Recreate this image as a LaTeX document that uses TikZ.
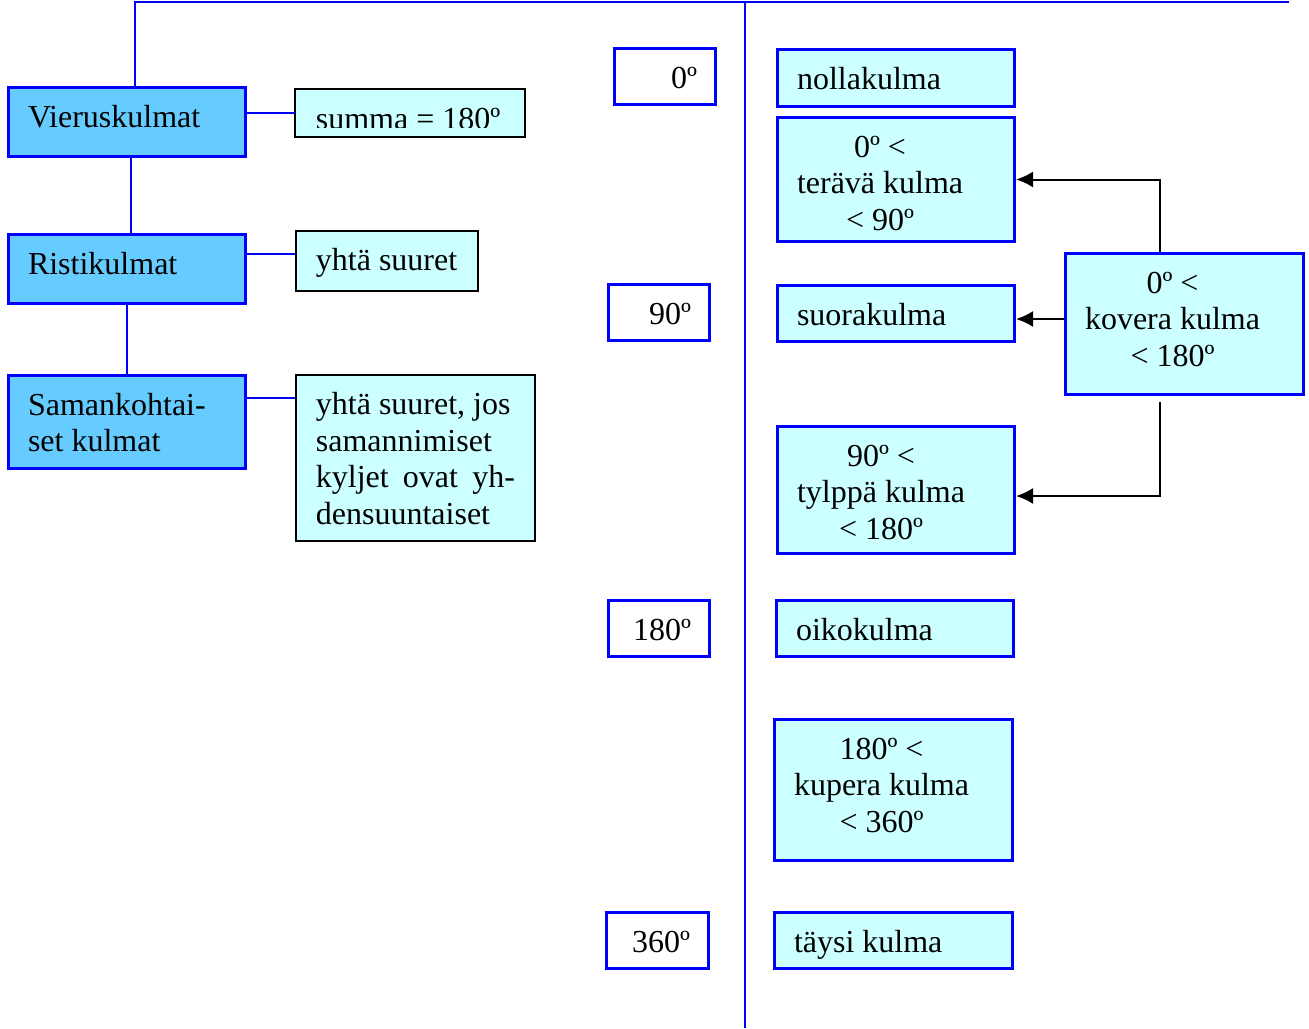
\documentclass[tikz,border=0pt]{standalone}
\usepackage{fontspec}
\setmainfont{Liberation Serif}
\usetikzlibrary{arrows.meta,backgrounds}
\definecolor{kblue}{RGB}{0,0,255}
\definecolor{kdark}{RGB}{102,204,255}
\definecolor{kpale}{RGB}{204,255,255}
\newcommand{\kstack}[1]{\begin{tabular}[t]{@{}c@{}}#1\end{tabular}}
\tikzstyle{lbox} = [draw=kblue, line width=3pt, fill=kdark, anchor=north west, inner xsep=19.5pt, inner ysep=0pt, text height=39.5pt, align=flush left, text width=198pt]
\tikzstyle{rbox} = [draw=kblue, line width=3pt, fill=kpale, anchor=north west, inner xsep=19.5pt, inner ysep=0pt, text height=39.5pt, align=flush left, text width=198pt]
\tikzstyle{nbox} = [draw=kblue, line width=3pt, fill=white, anchor=north west, inner xsep=18.5pt, inner ysep=0pt, text height=39.5pt, align=flush right, text width=64pt]
\tikzstyle{note} = [draw=black, line width=1.8pt, fill=kpale, anchor=north west, inner xsep=20pt, inner ysep=0pt, text height=40pt, align=flush left]
\tikzstyle{link} = [draw=kblue, line width=2.4pt]
\tikzstyle{arr}  = [draw=black, line width=2pt, -{Latex[length=17pt,width=16pt]}]

\begin{document}
\begin{tikzpicture}[x=1pt, y=-1pt, font=\fontsize{32}{36.5}\selectfont]
\useasboundingbox (0,0) rectangle (1309,1028);

% Left column
\node[lbox, text depth=29.5pt] (vieru) at (7,86)  {Vieruskulmat};
\node[lbox, text depth=29.5pt] (risti) at (7,233) {Ristikulmat};
\node[lbox, text depth=53.5pt] (saman) at (7,374) {Samankohtai-\\set kulmat};

\begin{scope}
\clip (290,85) rectangle (530,127);
\node[note, draw=none, fill=none, text width=188pt, text depth=6pt] (summa) at (295,89) {summa = 180º};
\end{scope}
\begin{scope}[on background layer]
\draw[note] (summa.north west) rectangle (summa.south east);
\end{scope}
\node[note, text width=142pt, text depth=20pt]  (yhta) at (295,230) {yhtä suuret};
\node[note, text width=199pt, text depth=126pt] (jos) at (295,374)
  {yhtä suuret, jos\\samannimiset\\kyljet\hfill ovat\hfill yh-\\densuuntaiset};

% Degrees
\node[nbox, text depth=16.5pt] (zero)       at (613,47)  {0º};
\node[nbox, text depth=16.5pt] (ninety)     at (607,283) {90º};
\node[nbox, text depth=16.5pt] (oneeighty)  at (607,599) {180º};
\node[nbox, text depth=16.5pt, text width=65pt] (threesixty) at (605,911) {360º};

% Angle names
\node[rbox, text depth=17.5pt]  (nolla)  at (776,48)  {nollakulma};
\node[rbox, text depth=84.5pt]  (terava) at (776,116) {\kstack{0º <\\terävä kulma\\< 90º}};
\node[rbox, text depth=16.5pt]  (suora)  at (776,284) {suorakulma};
\node[rbox, text depth=87.5pt]  (tylppa) at (776,425) {\kstack{90º <\\tylppä kulma\\< 180º}};
\node[rbox, text depth=16.5pt]  (oiko)   at (775,599) {oikokulma};
\node[rbox, text depth=101.5pt, text width=199pt] (kupera) at (773,718) {\kstack{180º <\\kupera kulma\\< 360º}};
\node[rbox, text depth=16.5pt, text width=199pt]  (taysi)  at (773,911) {täysi kulma};
\node[rbox, text depth=101.5pt, text width=199pt] (kovera) at (1064,252) {\kstack{0º <\\kovera kulma\\< 180º}};

% Blue lines
\coordinate (topright) at (1289,2);
\coordinate (midtop)   at (745,2);
\coordinate (midbot)   at (745,1028);
\draw[link] ([xshift=8pt]vieru.north) |- (topright);
\draw[link] (midtop) -- (midbot);
\draw[link] ([xshift=4pt]vieru.south) -- ([xshift=4pt]risti.north);
\draw[link] (risti.south) -- (saman.north);
\draw[link] (vieru.east |- summa.west) -- (summa.west);
\coordinate (r1) at ([yshift=-21pt]risti.north east);
\draw[link] (r1) -- (r1 -| yhta.west);
\coordinate (s1) at ([yshift=-24pt]saman.north east);
\draw[link] (s1) -- (s1 -| jos.west);

% Arrows
\coordinate (k1) at ([yshift=5pt]kovera.west);
\coordinate (k2) at ([xshift=-24.5pt,yshift=-6pt]kovera.south);
\coordinate (t1) at ([yshift=-6pt]tylppa.east);
\draw[arr] ([xshift=-24.5pt]kovera.north) |- (terava.east);
\draw[arr] (k1) -- (k1 -| suora.east);
\draw[arr] (k2) |- (t1);

\end{tikzpicture}
\end{document}
